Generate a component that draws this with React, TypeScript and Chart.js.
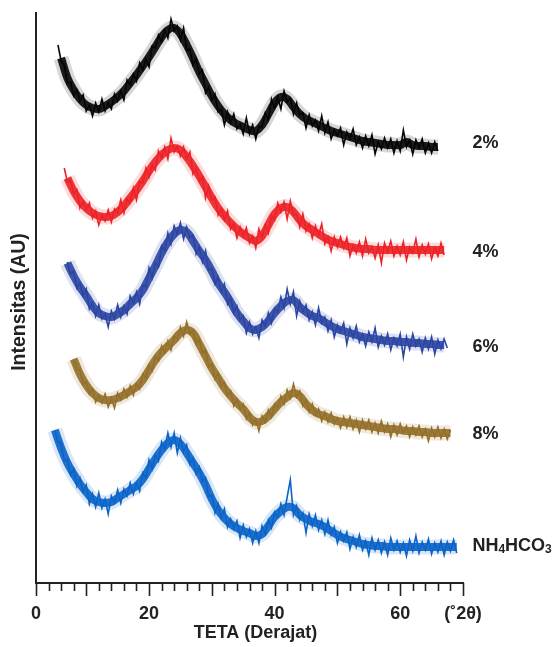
import React, { useEffect, useRef } from "react";
import { Chart, registerables } from "chart.js";

Chart.register(...registerables);

// 2θ scan step (degrees) and first angle of every pattern
const STEP = 0.5;
const SERIES_NAMES = ["2%", "4%", "6%", "8%", "NH4HCO3"];
const SERIES_START = [5.5, 6.5, 7.0, 8.0, 5.0];
const SERIES_COLORS = ["#050505", "#ec2227", "#2b45a3", "#94702a", "#0a64c8"];
// vertical level of the side labels (same arbitrary intensity units)
const LABEL_LEVELS = [457, 348, 253, 166, 54];

// intensities (AU, stacked)
const I_2 = [
  555, 539, 535, 517, 518, 504, 510, 499, 505, 489, 495, 484, 497, 488, 501, 489, 497, 491, 506, 499,
  509, 500, 520, 515, 526, 519, 537, 530, 541, 533, 554, 552, 565, 558, 570, 562, 581, 569, 574, 560,
  572, 550, 551, 535, 541, 526, 530, 507, 513, 500, 506, 488, 491, 475, 488, 477, 486, 471, 476, 466,
  482, 466, 475, 461, 474, 473, 487, 480, 501, 492, 503, 491, 509, 498, 502, 486, 497, 485, 487, 472,
  485, 474, 480, 469, 484, 467, 478, 461, 470, 464, 472, 455, 468, 461, 471, 455, 463, 452, 464, 454,
  465, 446, 458, 451, 462, 452, 461, 447, 459, 449, 470, 453, 460, 446, 460, 452, 461, 447, 457, 447,
  458, 449,
];
const I_4 = [
  432, 418, 420, 406, 410, 392, 398, 390, 397, 382, 389, 375, 385, 379, 390, 378, 391, 387, 400, 387,
  401, 397, 412, 400, 418, 417, 432, 423, 435, 430, 449, 442, 453, 441, 462, 448, 454, 444, 453, 441,
  448, 426, 432, 419, 423, 402, 414, 400, 403, 385, 391, 380, 389, 371, 376, 362, 373, 363, 372, 357,
  364, 352, 371, 362, 375, 367, 384, 380, 397, 388, 398, 381, 399, 385, 386, 373, 386, 369, 376, 362,
  374, 364, 376, 356, 363, 349, 363, 353, 363, 352, 362, 344, 355, 347, 358, 344, 361, 347, 353, 342,
  355, 337, 357, 348, 359, 344, 354, 345, 358, 340, 353, 347, 361, 343, 355, 346, 356, 341, 352, 344,
  357, 345,
];
const I_6 = [
  338, 326, 329, 312, 317, 304, 311, 291, 297, 284, 295, 281, 286, 273, 289, 281, 295, 283, 294, 286,
  304, 297, 308, 296, 315, 313, 332, 322, 337, 333, 354, 349, 367, 356, 374, 366, 377, 361, 373, 362,
  365, 346, 353, 338, 349, 330, 332, 316, 323, 308, 316, 296, 302, 287, 294, 280, 284, 267, 278, 266,
  273, 262, 280, 274, 287, 277, 292, 288, 303, 292, 311, 296, 308, 284, 299, 288, 295, 280, 288, 275,
  292, 277, 283, 269, 280, 263, 275, 268, 277, 256, 272, 262, 274, 258, 266, 254, 268, 258, 272, 253,
  264, 255, 266, 250, 262, 254, 266, 243, 263, 251, 266, 254, 261, 248, 262, 251, 263, 246, 260, 251,
  261, 252,
];
const I_8 = [
  241, 230, 230, 216, 218, 206, 211, 198, 205, 197, 206, 193, 202, 192, 207, 200, 211, 203, 214, 205,
  216, 211, 226, 222, 235, 229, 244, 239, 254, 247, 259, 250, 264, 261, 273, 264, 278, 266, 270, 256,
  261, 247, 250, 233, 236, 221, 227, 214, 218, 204, 209, 194, 201, 191, 196, 181, 187, 175, 181, 169,
  184, 178, 190, 183, 196, 192, 204, 196, 210, 202, 216, 203, 209, 194, 200, 188, 196, 185, 191, 179,
  188, 178, 187, 176, 182, 172, 183, 173, 183, 171, 180, 168, 180, 171, 180, 168, 177, 167, 179, 168,
  176, 163, 175, 165, 176, 167, 174, 163, 173, 165, 174, 163, 171, 159, 172, 163, 173, 162, 171, 161,
  170,
];
const I_NH4 = [
  170, 158, 156, 139, 141, 125, 131, 114, 122, 108, 115, 96, 106, 93, 107, 92, 101, 86, 104, 97,
  110, 97, 111, 104, 117, 106, 117, 109, 127, 122, 140, 131, 145, 139, 158, 151, 167, 153, 167, 147,
  162, 148, 155, 136, 142, 126, 133, 118, 122, 103, 105, 87, 96, 82, 91, 73, 81, 71, 79, 62,
  75, 63, 71, 57, 69, 57, 74, 66, 80, 72, 88, 83, 96, 85, 103, 120, 85, 94, 80, 87,
  67, 86, 74, 85, 70, 80, 66, 80, 65, 73, 57, 68, 59, 68, 51, 63, 53, 65, 50, 59,
  45, 62, 50, 60, 47, 58, 45, 62, 50, 59, 48, 57, 44, 60, 49, 64, 47, 58, 50, 61,
  46, 57, 48, 59, 45, 58, 49, 60, 47,
];
const SERIES_VALUES = [I_2, I_4, I_6, I_8, I_NH4];

// centre line of each noisy band, read every 1° (start angle in BAND_START)
const BAND_START = [6, 7, 7, 8, 5];
const B_2 = [
  542, 522, 510, 501, 495, 492, 491, 494, 498, 503, 509, 517, 525, 534, 543, 553, 563, 570, 572, 566,
  555, 542, 528, 516, 504, 494, 486, 480, 476, 473, 470, 469, 475, 486, 497, 503, 501, 493, 486, 481,
  478, 475, 472, 469, 467, 465, 463, 461, 459, 458, 457, 456, 455, 455, 455, 458, 455, 454, 454, 453,
  453,
];
const B_4 = [
  422, 409, 399, 392, 387, 384, 383, 384, 388, 394, 402, 410, 419, 429, 438, 445, 450, 452, 450, 443,
  434, 424, 413, 402, 392, 384, 377, 371, 366, 362, 359, 364, 375, 386, 392, 393, 388, 380, 374, 370,
  366, 362, 359, 357, 355, 353, 352, 351, 351, 350, 350, 350, 350, 350, 350, 350, 350, 350, 350, 350,
  350,
];
const B_6 = [
  337, 324, 313, 304, 294, 287, 284, 283, 286, 290, 296, 302, 310, 322, 334, 347, 358, 366, 370, 368,
  359, 349, 340, 329, 317, 308, 298, 287, 279, 272, 270, 273, 279, 287, 294, 299, 300, 293, 288, 284,
  282, 278, 274, 271, 269, 267, 265, 263, 262, 261, 260, 259, 259, 258, 258, 257, 257, 256, 256, 255,
  255,
];
const B_8 = [
  241, 226, 215, 207, 202, 200, 200, 202, 205, 209, 213, 220, 230, 240, 248, 254, 260, 267, 270, 267,
  256, 244, 232, 222, 212, 204, 197, 191, 183, 178, 179, 184, 191, 198, 203, 207, 204, 196, 190, 186,
  184, 181, 179, 178, 177, 176, 175, 174, 173, 172, 171, 171, 170, 169, 169, 168, 168, 167, 167, 167,
  167,
];
const B_NH4 = [
  170, 152, 137, 126, 116, 108, 101, 98, 97, 98, 102, 106, 110, 114, 121, 131, 141, 150, 157, 160,
  156, 147, 137, 127, 115, 101, 90, 82, 76, 72, 69, 67, 64, 66, 74, 83, 89, 93, 92, 85,
  81, 78, 76, 73, 69, 65, 62, 60, 58, 56, 55, 54, 54, 53, 53, 53, 53, 53, 53, 53,
  53, 53, 53, 53, 53,
];
const BAND_VALUES = [B_2, B_4, B_6, B_8, B_NH4];

// x axis
const X_MIN = 2;
const X_MAX = 70;
const X_TICK_STEP = 2;
const X_TICK_LABELS: Record<number, string> = { 2: "0", 20: "20", 40: "40", 60: "60", 70: "(\u02DA2\u03B8)" };
const X_MAJOR_TICKS = [2, 10, 20, 30, 40, 50, 60, 70];
const X_TITLE = "TETA (Derajat)";
const Y_TITLE = "Intensitas (AU)";
const LABEL_X = 71.5;

const FONT = "'Liberation Sans', Arial, sans-serif";

function withAlpha(hex: string, a: number) {
  const n = parseInt(hex.slice(1), 16);
  return `rgba(${(n >> 16) & 255},${(n >> 8) & 255},${n & 255},${a})`;
}

const decorations = {
  id: "decorations",
  afterDraw(chart: any) {
    const { ctx, chartArea, scales } = chart;
    const x = scales.x;
    const y = scales.y;
    ctx.save();
    // x ticks (below the axis)
    ctx.strokeStyle = "#222";
    ctx.lineWidth = 1.6;
    for (let t = X_MIN; t <= X_MAX + 1e-9; t += X_TICK_STEP) {
      const px = Math.round(x.getPixelForValue(t)) + 0.5;
      const len = X_MAJOR_TICKS.includes(t) ? 13 : 8;
      ctx.beginPath();
      ctx.moveTo(px, chartArea.bottom);
      ctx.lineTo(px, chartArea.bottom + len);
      ctx.stroke();
    }
    // axis titles
    ctx.fillStyle = "#222";
    ctx.font = `bold 18px ${FONT}`;
    ctx.textAlign = "center";
    ctx.textBaseline = "middle";
    ctx.fillText(X_TITLE, (chartArea.left + chartArea.right) / 2 + 6, 633);
    ctx.save();
    ctx.translate(20, 302);
    ctx.rotate(-Math.PI / 2);
    ctx.font = `bold 19.5px ${FONT}`;
    ctx.fillText(Y_TITLE, 0, 0);
    ctx.restore();
    // series labels
    ctx.textAlign = "left";
    ctx.textBaseline = "middle";
    const lx = x.getPixelForValue(LABEL_X);
    SERIES_NAMES.forEach((name, i) => {
      const py = y.getPixelForValue(LABEL_LEVELS[i]);
      let cx = lx;
      const parts = name.match(/[A-Za-z%]+|\d+/g) || [name];
      const isFormula = /[A-Z]/.test(name);
      parts.forEach((p) => {
        const sub = isFormula && /^\d+$/.test(p);
        ctx.font = sub ? `bold 12px ${FONT}` : `bold 18px ${FONT}`;
        ctx.fillText(p, cx, sub ? py + 4 : py);
        cx += ctx.measureText(p).width;
      });
    });
    ctx.restore();
  },
};

export default function App() {
  const ref = useRef<HTMLCanvasElement>(null);
  useEffect(() => {
    if (!ref.current) return;
    const noisy = SERIES_VALUES.map((vals, i) => ({
      label: SERIES_NAMES[i],
      data: vals.map((v, k) => ({ x: SERIES_START[i] + k * STEP, y: v })),
      borderColor: SERIES_COLORS[i],
      borderWidth: 1.6,
      pointRadius: 0,
      tension: 0,
      fill: false,
      order: 0,
    }));
    const bandData = (i: number) => BAND_VALUES[i].map((v, k) => ({ x: BAND_START[i] + k, y: v }));
    const cores = BAND_VALUES.map((_, i) => ({
      label: SERIES_NAMES[i] + " core",
      data: bandData(i),
      borderColor: withAlpha(SERIES_COLORS[i], 0.9),
      borderWidth: 8,
      pointRadius: 0,
      tension: 0.4,
      fill: false,
      order: 1,
    }));
    const halos = BAND_VALUES.map((_, i) => ({
      label: SERIES_NAMES[i] + " halo",
      data: bandData(i),
      borderColor: withAlpha(SERIES_COLORS[i], 0.16),
      borderWidth: 15,
      pointRadius: 0,
      tension: 0.4,
      fill: false,
      order: 2,
    }));
    const chart = new Chart(ref.current, {
      type: "line",
      data: { datasets: [...noisy, ...cores, ...halos] },
      plugins: [decorations],
      options: {
        animation: false,
        responsive: false,
        layout: { padding: { left: 0, top: 13, right: 94, bottom: 0 } },
        plugins: { legend: { display: false }, tooltip: { enabled: false } },
        scales: {
          x: {
            type: "linear",
            min: X_MIN,
            max: X_MAX,
            afterFit: (s: any) => {
              s.height = 64;
            },
            grid: { display: false, drawTicks: false },
            border: { display: true, color: "#222", width: 2 },
            ticks: {
              stepSize: X_TICK_STEP,
              autoSkip: false,
              maxRotation: 0,
              padding: 20,
              color: "#222",
              font: { family: FONT, size: 18, weight: "bold" },
              callback: (v: any) => X_TICK_LABELS[Math.round(Number(v))] ?? "",
            },
          },
          y: {
            type: "linear",
            min: 17,
            max: 587,
            afterFit: (s: any) => {
              s.width = 36;
            },
            grid: { display: false, drawTicks: false },
            border: { display: true, color: "#222", width: 2 },
            ticks: { display: false },
          },
        },
      },
    });
    return () => chart.destroy();
  }, []);
  return (
    <div style={{ position: "fixed", left: 0, top: 0, width: 557, height: 647, background: "#fff" }}>
      <canvas ref={ref} width={557} height={647} style={{ width: 557, height: 647 }} />
    </div>
  );
}
